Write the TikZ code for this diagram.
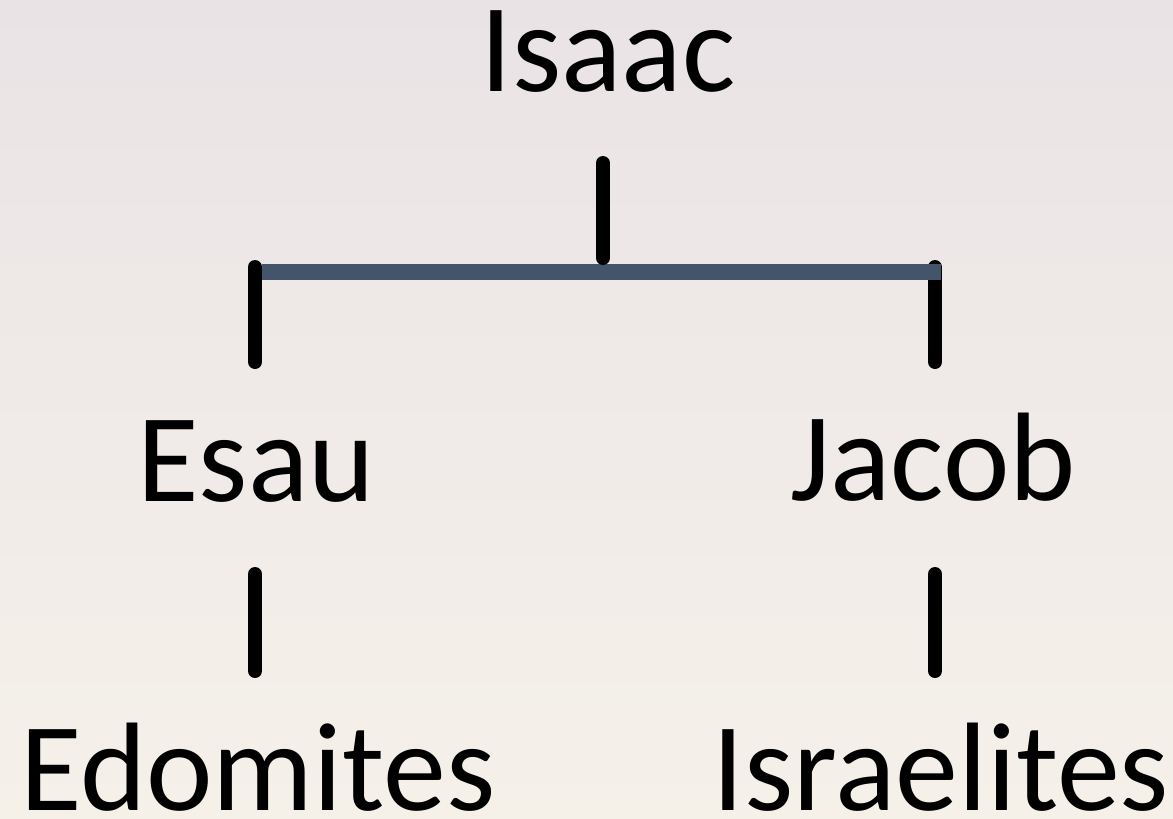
\documentclass[tikz,border=0pt]{standalone}
\usepackage{fontspec}
\setmainfont{Carlito}
\definecolor{bgtop}{RGB}{234,227,230}
\definecolor{bgbot}{RGB}{245,241,233}
\definecolor{slate}{RGB}{68,84,106}
\begin{document}
\begin{tikzpicture}[x=1pt,y=-1pt,
  lbl/.style={anchor=base,inner sep=0pt,text depth=0pt,text height=70pt,font=\fontsize{126}{126}\selectfont,text=black},
  stem/.style={draw=black,line width=14pt,line cap=round},
  bar/.style={draw=slate,line width=16pt,line cap=butt}]
\shade[top color=bgtop,bottom color=bgbot] (0,0) rectangle (1173,819);
\useasboundingbox (0,0) rectangle (1173,819);
\node[lbl] (isaac) at (608,91) {Isaac};
\node[lbl] (esau) at (256,501) {Esau};
\node[lbl] (jacob) at (933,500) {Jacob};
\node[lbl] (edom) at (258,810) {Edomites};
\node[lbl] (israel) at (941,810) {Israelites};
\coordinate (it) at (603,163);
\coordinate (ib) at (603,258);
\coordinate (bl) at (262,271.5);
\coordinate (br) at (941,271.5);
\coordinate (lt) at (255,267);
\coordinate (lb) at (255,362);
\coordinate (rt) at (935,267);
\coordinate (rb) at (935,362);
\coordinate (elt) at (255,574);
\coordinate (elb) at (255,671);
\coordinate (jlt) at (935,574);
\coordinate (jlb) at (935,671);
\draw[stem] (lt) -- (lb);
\draw[stem] (rt) -- (rb);
\draw[bar] (bl) -- (br);
\draw[stem] (it) -- (ib);
\draw[stem] (elt) -- (elb);
\draw[stem] (jlt) -- (jlb);
\end{tikzpicture}
\end{document}
